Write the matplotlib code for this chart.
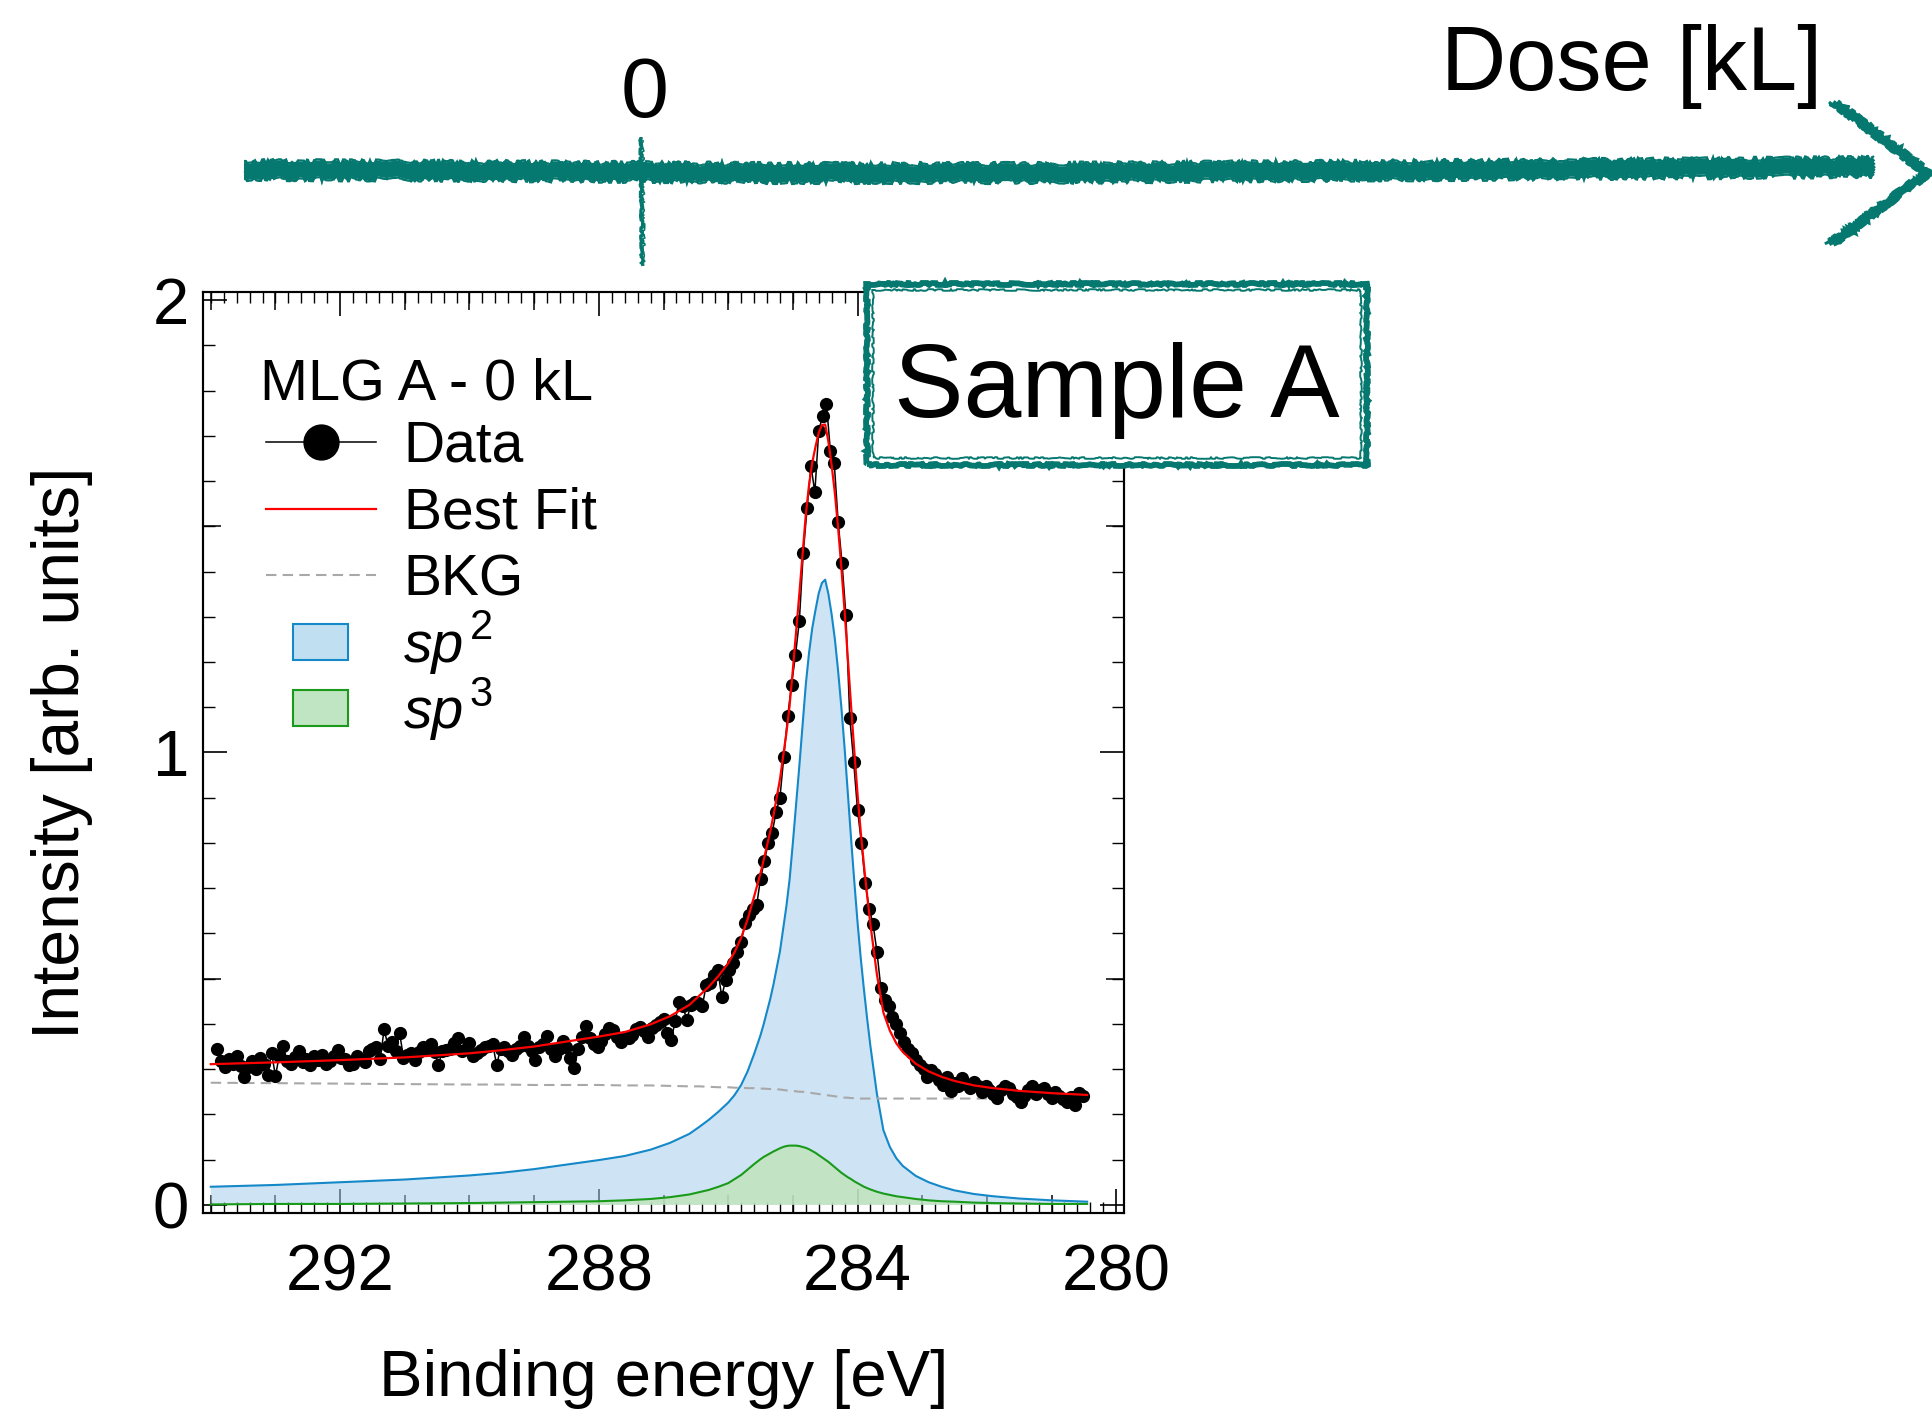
import numpy as np
import matplotlib
matplotlib.use("Agg")
import matplotlib.pyplot as plt
from matplotlib.ticker import MultipleLocator, FixedLocator, NullLocator
from matplotlib.lines import Line2D
from matplotlib.patches import Rectangle, Patch
from matplotlib.legend_handler import HandlerPatch

plt.rcParams['font.family'] = ['Liberation Sans', 'DejaVu Sans']

# ---------------- data ----------------
energy_start = 293.90
energy_step = 0.06
intensity = [
    0.344, 0.318, 0.305, 0.322, 0.312, 0.328, 0.308, 0.283, 0.305, 0.318,
    0.300, 0.325, 0.312, 0.286, 0.336, 0.285, 0.330, 0.352, 0.318, 0.312,
    0.326, 0.340, 0.316, 0.322, 0.310, 0.328, 0.320, 0.332, 0.312, 0.318,
    0.330, 0.342, 0.325, 0.322, 0.310, 0.312, 0.330, 0.322, 0.316, 0.340,
    0.345, 0.350, 0.322, 0.388, 0.352, 0.360, 0.340, 0.380, 0.325, 0.332,
    0.335, 0.320, 0.338, 0.350, 0.345, 0.355, 0.338, 0.310, 0.340, 0.342,
    0.345, 0.358, 0.368, 0.340, 0.345, 0.358, 0.330, 0.336, 0.342, 0.348,
    0.352, 0.355, 0.309, 0.345, 0.350, 0.340, 0.332, 0.345, 0.352, 0.370,
    0.352, 0.340, 0.320, 0.348, 0.355, 0.374, 0.345, 0.330, 0.345, 0.362,
    0.348, 0.325, 0.302, 0.345, 0.372, 0.396, 0.368, 0.355, 0.350, 0.362,
    0.378, 0.390, 0.386, 0.372, 0.360, 0.370, 0.368, 0.375, 0.388, 0.394,
    0.385, 0.372, 0.392, 0.398, 0.405, 0.410, 0.380, 0.364, 0.406, 0.449,
    0.440, 0.408, 0.442, 0.448, 0.446, 0.439, 0.486, 0.490, 0.508, 0.519,
    0.460, 0.497, 0.520, 0.534, 0.560, 0.581, 0.622, 0.640, 0.655, 0.662,
    0.721, 0.760, 0.800, 0.822, 0.868, 0.900, 0.990, 1.080, 1.150, 1.215,
    1.290, 1.440, 1.540, 1.634, 1.575, 1.711, 1.744, 1.770, 1.667, 1.640,
    1.510, 1.420, 1.304, 1.077, 0.980, 0.873, 0.800, 0.711, 0.655, 0.620,
    0.560, 0.480, 0.452, 0.440, 0.415, 0.400, 0.380, 0.360, 0.345, 0.335,
    0.320, 0.310, 0.300, 0.283, 0.298, 0.290, 0.275, 0.265, 0.282, 0.252,
    0.270, 0.262, 0.280, 0.268, 0.258, 0.272, 0.262, 0.250, 0.262, 0.255,
    0.245, 0.236, 0.255, 0.262, 0.258, 0.245, 0.238, 0.228, 0.240, 0.255,
    0.262, 0.245, 0.255, 0.258, 0.245, 0.236, 0.250, 0.240, 0.235, 0.228,
    0.238, 0.221, 0.248, 0.240,
]
energy = np.round(energy_start - energy_step * np.arange(len(intensity)), 2)

fit_energy = [
    294.0, 293.0, 292.0, 291.0, 290.0, 289.5, 289.0, 288.5, 288.0, 287.6,
    287.2, 286.9, 286.6, 286.45, 286.3, 286.15, 286.0, 285.9, 285.8, 285.7,
    285.6, 285.5, 285.45, 285.35, 285.3, 285.2,
    285.15, 285.1, 285.05, 285.0, 284.95, 284.9, 284.85, 284.8, 284.75, 284.7,
    284.65, 284.6, 284.55, 284.5, 284.45, 284.4, 284.35, 284.3, 284.25, 284.2,
    284.15, 284.1, 284.05, 284.0, 283.95, 283.9, 283.85, 283.8, 283.7, 283.6,
    283.5, 283.4, 283.3, 283.1, 282.9, 282.7, 282.5, 282.2, 281.9, 281.5,
    281.0, 280.45,
]
best_fit = [
    0.311, 0.315, 0.320, 0.326, 0.335, 0.342, 0.350, 0.361, 0.372, 0.382,
    0.399, 0.417, 0.442, 0.462, 0.482, 0.506, 0.534, 0.559, 0.590, 0.631,
    0.681, 0.733, 0.763, 0.825, 0.861, 0.940,
    0.992, 1.043, 1.104, 1.183, 1.267, 1.350, 1.438, 1.525, 1.591, 1.641,
    1.676, 1.707, 1.724, 1.725, 1.687, 1.635, 1.573, 1.496, 1.409, 1.313,
    1.208, 1.103, 1.003, 0.908, 0.824, 0.750, 0.682, 0.619, 0.509, 0.425,
    0.385, 0.357, 0.338, 0.312, 0.295, 0.283, 0.274, 0.264, 0.258, 0.252,
    0.247, 0.243,
]
background = [
    0.270, 0.269, 0.268, 0.267, 0.266, 0.266, 0.265, 0.265, 0.265, 0.264,
    0.264, 0.263, 0.262, 0.262, 0.261, 0.260, 0.260, 0.259, 0.259, 0.258,
    0.258, 0.257, 0.257, 0.256, 0.256, 0.255,
    0.254, 0.253, 0.253, 0.252, 0.251, 0.250, 0.250, 0.249, 0.248, 0.247,
    0.246, 0.245, 0.244, 0.243, 0.242, 0.241, 0.240, 0.239, 0.238, 0.237,
    0.237, 0.236, 0.236, 0.235, 0.235, 0.235, 0.235, 0.235, 0.235, 0.235,
    0.235, 0.235, 0.235, 0.235, 0.235, 0.235, 0.235, 0.235, 0.235, 0.235,
    0.235, 0.234,
]
sp2 = [
    0.040, 0.044, 0.050, 0.056, 0.065, 0.071, 0.079, 0.089, 0.099, 0.108,
    0.122, 0.137, 0.157, 0.172, 0.188, 0.206, 0.226, 0.243, 0.265, 0.295,
    0.333, 0.375, 0.400, 0.455, 0.487, 0.560,
    0.610, 0.660, 0.720, 0.800, 0.885, 0.970, 1.060, 1.150, 1.220, 1.275,
    1.315, 1.352, 1.375, 1.382, 1.350, 1.305, 1.250, 1.180, 1.100, 1.010,
    0.910, 0.810, 0.715, 0.625, 0.545, 0.475, 0.410, 0.350, 0.245, 0.165,
    0.128, 0.103, 0.086, 0.064, 0.050, 0.040, 0.032, 0.024, 0.019, 0.014,
    0.010, 0.007,
]
sp3 = [
    0.001, 0.002, 0.002, 0.003, 0.004, 0.005, 0.006, 0.007, 0.008, 0.010,
    0.013, 0.017, 0.023, 0.028, 0.033, 0.040, 0.048, 0.057, 0.066, 0.078,
    0.090, 0.101, 0.106, 0.114, 0.118, 0.125,
    0.128, 0.130, 0.131, 0.131, 0.131, 0.130, 0.128, 0.126, 0.123, 0.119,
    0.115, 0.110, 0.105, 0.100, 0.095, 0.089, 0.083, 0.077, 0.071, 0.066,
    0.061, 0.057, 0.052, 0.048, 0.044, 0.040, 0.037, 0.034, 0.029, 0.025,
    0.022, 0.019, 0.017, 0.013, 0.010, 0.008, 0.007, 0.005, 0.004, 0.003,
    0.002, 0.002,
]
x_major = [292, 288, 284, 280]
x_medium = [294, 293, 291, 290, 289, 287, 286, 285, 283, 282, 281]
y_major = [0, 1, 2]
y_medium = [0.5, 1.5]

legend_title = "MLG A - 0 kL"
legend_labels = ["Data", "Best Fit", "BKG", "sp", "sp"]
legend_superscripts = {3: "2", 4: "3"}

# ---------------- styles ----------------
W, H = 1933, 1415
DPI = 100
TEAL = '#05786F'
BLUE_LINE = '#1488C8'
BLUE_FILL = '#A6CFEC'
BLUE_PATCH = '#C0E0F2'
GREEN_LINE = '#1A9A1A'
GREEN_FILL = '#C0E4BA'
GREEN_PATCH = '#C0E5C2'
GRAY = '#A8A8A8'

fig = plt.figure(figsize=(W / DPI, H / DPI), dpi=DPI)
fig.patch.set_facecolor('white')

ax_l, ax_r, ax_t, ax_b = 203, 1124, 292, 1213
ax = fig.add_axes([ax_l / W, 1 - ax_b / H, (ax_r - ax_l) / W, (ax_b - ax_t) / H], zorder=1)

ax.fill_between(fit_energy, 0, sp2, facecolor=BLUE_FILL, alpha=0.55, lw=0, zorder=3)
ax.fill_between(fit_energy, 0, sp3, facecolor=GREEN_FILL, alpha=0.8, lw=0, zorder=3.05)
ax.plot(fit_energy, sp2, color=BLUE_LINE, lw=1.5, zorder=3.2)
ax.plot(fit_energy, sp3, color=GREEN_LINE, lw=1.5, zorder=3.3)
ax.plot(fit_energy, background, color=GRAY, lw=1.5, ls=(0, (5, 3)), zorder=3.4)
ax.plot(energy, intensity, color='black', lw=1.1, marker='o', ms=9.5,
        markeredgewidth=0, zorder=4)
ax.plot(fit_energy, best_fit, color='red', lw=1.6, zorder=5)

ax.set_xlim(294.12, 279.88)
ax.set_ylim(-0.018, 2.018)

for s in ax.spines.values():
    s.set_linewidth(1.5)

ax.xaxis.set_major_locator(FixedLocator(x_major))
ax.xaxis.set_minor_locator(MultipleLocator(0.2))
ax.yaxis.set_major_locator(FixedLocator(y_major))
ax.yaxis.set_minor_locator(MultipleLocator(0.1))
ax.tick_params(axis='x', which='major', direction='in', length=17.3, width=1.2,
               top=True, bottom=True, labelsize=47, pad=22)
ax.tick_params(axis='x', which='minor', direction='in', length=8, width=1.0,
               top=True, bottom=True)
ax.tick_params(axis='y', which='major', direction='in', length=17.3, width=1.2,
               left=True, right=True, labelsize=47, pad=10)
ax.tick_params(axis='y', which='minor', direction='in', length=8.6, width=1.0,
               left=True, right=True)

# medium-length ticks
for loc in ['top', 'bottom']:
    sx = ax.secondary_xaxis(loc)
    sx.xaxis.set_major_locator(FixedLocator(x_medium))
    sx.xaxis.set_minor_locator(NullLocator())
    sx.tick_params(direction='in', length=13, width=1.1, labeltop=False, labelbottom=False)
    sx.spines[loc].set_linewidth(1.5)
for loc in ['left', 'right']:
    sy = ax.secondary_yaxis(loc)
    sy.yaxis.set_major_locator(FixedLocator(y_medium))
    sy.yaxis.set_minor_locator(NullLocator())
    sy.tick_params(direction='in', length=13, width=1.1, labelleft=False, labelright=False)
    sy.spines[loc].set_linewidth(1.5)

ax.set_xlabel("Binding energy [eV]", fontsize=47)
ax.set_ylabel("Intensity [arb. units]", fontsize=47.5)
ax.xaxis.set_label_coords(0.5, -0.148)
ax.yaxis.set_label_coords(-0.119, 0.5)

# legend
def small_rect(legend, orig_handle, xdescent, ydescent, width, height, fontsize):
    w, h = 39.6, 26.0
    return Rectangle((-xdescent + (width - w) / 2, -ydescent + (height - h) / 2), w, h)

handles = [
    Line2D([], [], color='black', lw=1.1, marker='o', ms=9.5, markeredgewidth=0),
    Line2D([], [], color='red', lw=1.6),
    Line2D([], [], color=GRAY, lw=1.5, ls=(0, (5, 3))),
    Patch(facecolor=BLUE_PATCH, edgecolor=BLUE_LINE, lw=1.5),
    Patch(facecolor=GREEN_PATCH, edgecolor=GREEN_LINE, lw=1.5),
]
leg = ax.legend(handles, legend_labels, loc='upper left',
                bbox_to_anchor=(266 / W, 1 - 420 / H), bbox_transform=fig.transFigure,
                frameon=False, fontsize=41, markerscale=2.75,
                handlelength=1.93, handletextpad=0.49, labelspacing=0.22,
                borderpad=0, borderaxespad=0,
                handler_map={Patch: HandlerPatch(patch_func=small_rect)})
leg.set_zorder(6)
leg_texts = leg.get_texts()
for i, sup in legend_superscripts.items():
    leg_texts[i].set_fontstyle('italic')
    ax.annotate(sup, xy=(1, 1), xycoords=leg_texts[i], xytext=(4, 8),
                textcoords='offset points', fontsize=30, ha='left', va='top',
                zorder=7)
fig.text(260 / W, 1 - 399 / H, legend_title, fontsize=41.5, ha='left', va='baseline')

# ---------------- decorations (figure pixel coordinates) ----------------
axo = fig.add_axes([0, 0, 1, 1], zorder=5)
axo.set_xlim(0, W)
axo.set_ylim(H, 0)
axo.axis('off')

def brush(xs, ys, lw, scale=1.5, length=25, rand=20):
    ln, = axo.plot(xs, ys, color=TEAL, lw=lw, solid_capstyle='butt', solid_joinstyle='miter')
    ln.set_sketch_params(scale=scale, length=length, randomness=rand)
    return ln

shaft_x = [244, 500, 760, 1030, 1300, 1600, 1874]
shaft_y = [170, 171, 173, 173, 171, 169, 167]
for dy, lw in zip([-9, -6, -3, 0, 3, 6, 9], [1.6, 2.8, 3.6, 4.2, 3.6, 2.8, 1.6]):
    brush(shaft_x, [v + dy for v in shaft_y], lw, scale=2, length=30, rand=25)
brush([641, 642], [137, 266], 2.4, scale=1.0)
brush([643, 644], [140, 262], 1.2, scale=1.0)
for dx, lw in zip([0, -4, -8], [4.5, 3.5, 2.2]):
    brush([1837 + dx, 1930 + dx, 1833 + dx], [102, 173, 244], lw, scale=1.5)

axo.add_patch(Rectangle((865, 282), 504, 186, facecolor='white', edgecolor='none', zorder=1))
ro = Rectangle((867, 284), 500, 181, facecolor='none', edgecolor=TEAL, lw=4.2, zorder=2)
ro.set_sketch_params(scale=1.0, length=40, randomness=30)
axo.add_patch(ro)
ri = Rectangle((873, 290), 488, 168, facecolor='none', edgecolor=TEAL, lw=1.4, zorder=2)
ri.set_sketch_params(scale=0.8, length=40, randomness=30)
axo.add_patch(ri)

axo.text(1117, 417, "Sample A", fontsize=75, ha='center', va='baseline', zorder=3)
axo.text(645, 117, "0", fontsize=62, ha='center', va='baseline')
axo.text(1822, 90, "Dose [kL]", fontsize=65, ha='right', va='baseline')

fig.savefig('out.png', dpi=DPI)
